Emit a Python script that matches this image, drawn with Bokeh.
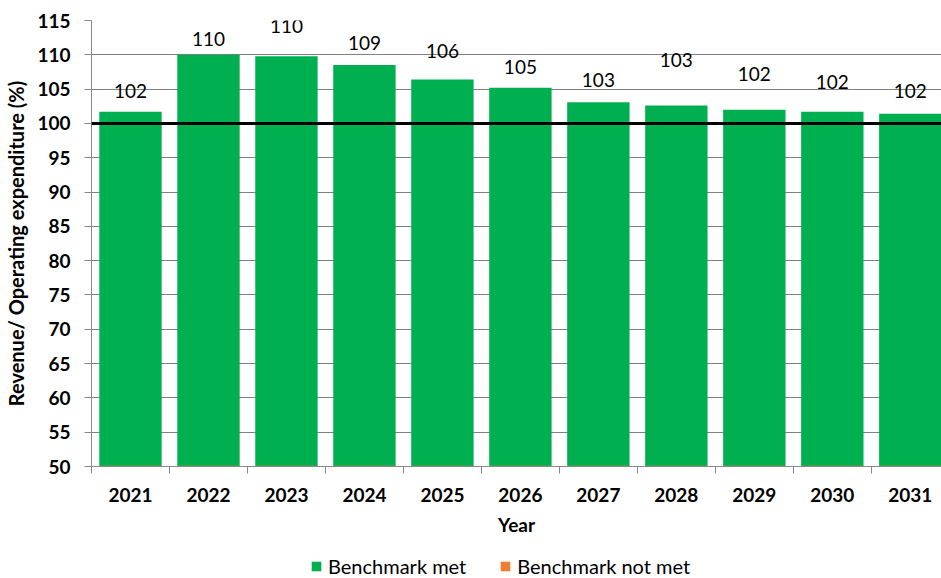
from bokeh.plotting import figure
from bokeh.layouts import column
from bokeh.models import (ColumnDataSource, FixedTicker, Range1d, Span, Legend, LegendItem)
from bokeh.core.properties import value
from bokeh.embed import file_html
from bokeh.resources import INLINE

years = [2021, 2022, 2023, 2024, 2025, 2026, 2027, 2028, 2029, 2030, 2031]
met = [101.7, 110.0, 109.8, 108.5, 106.4, 105.2, 103.1, 102.6, 102.0, 101.7, 101.4]
not_met = [0, 0, 0, 0, 0, 0, 0, 0, 0, 0, 0]
labels = ["102", "110", "110", "109", "106", "105", "103", "103", "102", "102", "102"]
series_names = ["Benchmark met", "Benchmark not met"]
benchmark = 100
y_ticks = list(range(50, 116, 5))

# label offsets above bar tops (px), as placed in the original chart
label_offsets = [-21, -16, -30, -22, -29, -21, -22, -46, -36, -30, -23]

FONT = "Lato"
GREEN = "#00B050"
ORANGE = "#ED7D31"

src = ColumnDataSource(dict(
    x=years,
    met=met,
    base=[50] * len(years),
    notmet_top=[50 + v for v in not_met],
    lab=labels,
    off=label_offsets,
))

p = figure(width=941, height=546, output_backend="svg", toolbar_location=None,
           x_range=Range1d(2020.5, 2031.4), y_range=Range1d(50, 115))
p.min_border_left = 91
p.min_border_top = 20
p.min_border_right = 0
p.min_border_bottom = 80
p.outline_line_color = None
p.background_fill_color = "white"
p.border_fill_color = "white"

p.vbar(x="x", bottom="base", top="met", width=0.8, source=src,
       fill_color=GREEN, line_color=None)
p.vbar(x="x", bottom="base", top="notmet_top", width=0.8, source=src,
       fill_color=ORANGE, line_color=ORANGE, line_width=1.5)

p.add_layout(Span(location=benchmark, dimension="width", line_color="black", line_width=3))

p.text(x="x", y="met", text="lab", source=src, y_offset="off",
       text_align="center", text_baseline="middle",
       text_font=value(FONT), text_font_size="19px", text_color="black")

# axes
p.xaxis.ticker = FixedTicker(ticks=years, minor_ticks=[y - 0.5 for y in years] + [2031.5])
p.xaxis.major_tick_out = 0
p.xaxis.major_tick_in = 0
p.xaxis.minor_tick_out = 7
p.xaxis.minor_tick_in = 0
p.xaxis.minor_tick_line_color = "#888888"
p.xaxis.axis_line_color = "#888888"
p.xaxis.major_label_text_font = FONT
p.xaxis.major_label_text_font_style = "bold"
p.xaxis.major_label_text_font_size = "19px"
p.xaxis.major_label_text_color = "black"
p.xaxis.major_label_standoff = 14
p.xaxis.axis_label = "Year"
p.xaxis.axis_label_text_font = FONT
p.xaxis.axis_label_text_font_style = "bold"
p.xaxis.axis_label_text_font_size = "19px"
p.xaxis.axis_label_text_color = "black"
p.xaxis.axis_label_standoff = 8

p.yaxis.ticker = FixedTicker(ticks=y_ticks)
p.yaxis.major_tick_out = 7
p.yaxis.major_tick_in = 0
p.yaxis.minor_tick_line_color = None
p.yaxis.major_tick_line_color = "#888888"
p.yaxis.axis_line_color = "#888888"
p.yaxis.major_label_text_font = FONT
p.yaxis.major_label_text_font_style = "bold"
p.yaxis.major_label_text_font_size = "19px"
p.yaxis.major_label_text_color = "black"
p.yaxis.major_label_standoff = 14
p.yaxis.axis_label = "Revenue/ Operating expenditure (%)"
p.yaxis.axis_label_text_font = FONT
p.yaxis.axis_label_text_font_style = "bold"
p.yaxis.axis_label_text_font_size = "20px"
p.yaxis.axis_label_text_color = "black"
p.yaxis.axis_label_standoff = 6

p.xgrid.grid_line_color = None
p.ygrid.grid_line_color = "#808080"
p.ygrid.grid_line_width = 1

# legend strip below the chart (proxy glyphs sit outside the visible range)
lg = figure(width=941, height=32, output_backend="svg", toolbar_location=None,
            x_range=Range1d(0, 1), y_range=Range1d(0, 1))
lg.min_border = 0
lg.axis.visible = False
lg.grid.visible = False
lg.outline_line_color = None
proxy = ColumnDataSource(dict(x=[-5], top=[-5]))
g1 = lg.vbar(x="x", top="top", width=0.1, source=proxy, fill_color=GREEN, line_color=None)
g2 = lg.vbar(x="x", top="top", width=0.1, source=proxy, fill_color=ORANGE, line_color=None)
legend = Legend(items=[LegendItem(label=series_names[0], renderers=[g1]),
                       LegendItem(label=series_names[1], renderers=[g2])],
                orientation="horizontal", location=(219, 0))
legend.border_line_color = None
legend.background_fill_alpha = 0
legend.label_text_font = FONT
legend.label_text_font_size = "20px"
legend.label_text_color = "black"
legend.glyph_width = 12
legend.glyph_height = 12
legend.spacing = 33
legend.label_standoff = 6
legend.padding = 0
legend.margin = 0
lg.add_layout(legend, "center")

layout = column(p, lg, spacing=0)
open("out.html", "w").write(file_html(layout, INLINE))
